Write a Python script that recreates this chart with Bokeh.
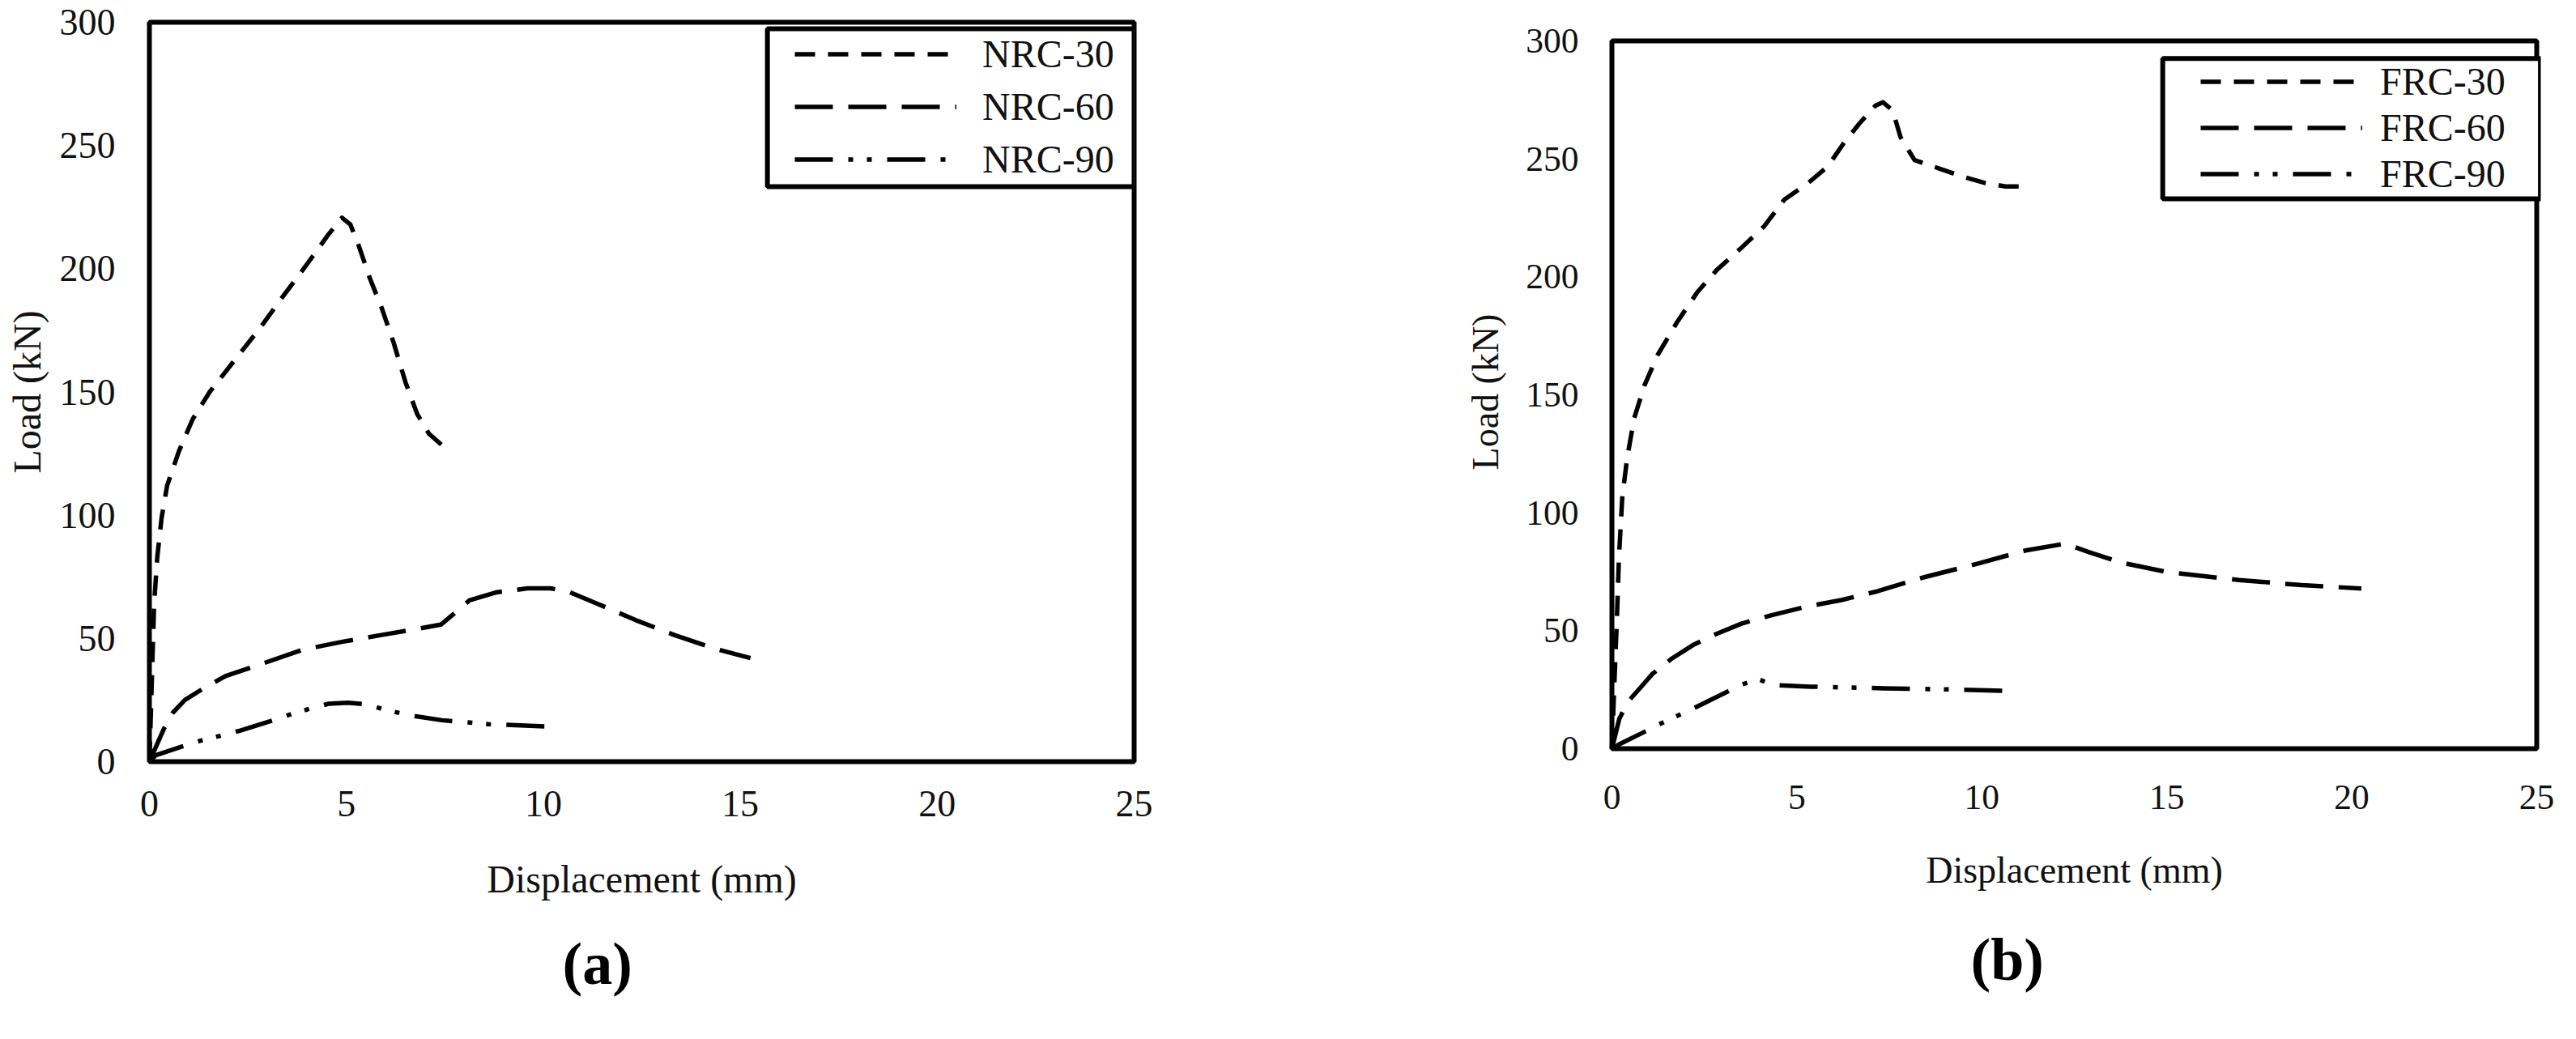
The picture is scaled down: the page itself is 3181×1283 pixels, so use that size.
from bokeh.plotting import figure
from bokeh.models import Range1d, FixedTicker, Legend, LegendItem, BoxAnnotation, Title
from bokeh.layouts import row
from bokeh.embed import file_html
from bokeh.resources import INLINE

# ---------------- data ----------------
x_ticks = [0, 5, 10, 15, 20, 25]
y_ticks = [0, 50, 100, 150, 200, 250, 300]
x_title = "Displacement (mm)"
y_title = "Load (kN)"
panel_tags = ["(a)", "(b)"]

labels_a = ["NRC-30", "NRC-60", "NRC-90"]
labels_b = ["FRC-30", "FRC-60", "FRC-90"]

nrc30_x = [0, 0.04, 0.08, 0.12, 0.2, 0.31, 0.45, 0.75, 1.1, 1.53, 2.12, 2.81, 3.4, 3.87, 4.28, 4.55, 4.89,
           5.1, 5.3, 5.6, 5.9, 6.2, 6.5, 6.8, 7.1, 7.53]
nrc30_y = [0, 21, 43, 64, 83, 99, 112, 126, 139, 150, 162, 176, 189, 199, 208, 214, 220.7,
           218, 210, 196, 184, 170, 154, 141, 133, 127]

nrc60_x = [0, 0.37, 0.58, 0.9, 1.34, 1.93, 2.91, 3.89, 4.88, 5.86, 6.85, 7.4, 7.73, 8.12, 8.81, 9.6, 10.19,
           10.68, 11.37, 12.35, 13.34, 14.32, 15.26]
nrc60_y = [0, 13.4, 19.6, 25, 29.4, 34.7, 40, 45.4, 48.6, 51.3, 54, 55.6, 60, 65.4, 68.7, 70.3, 70.3,
           68.7, 64.1, 57.4, 51.3, 46, 42]

nrc90_x = [0, 0.16, 0.84, 1.3, 1.8, 2.26, 3.19, 3.6, 4.1, 4.55, 5.05, 5.55, 5.98, 6.65, 7.43, 8.6, 10.2]
nrc90_y = [0, 2.6, 6.2, 8.5, 10.5, 12.4, 17, 19.3, 21.6, 23.5, 23.9, 23.2, 21, 18.7, 16.8, 15.2, 14.2]

frc30_x = [0, 0.06, 0.13, 0.19, 0.28, 0.41, 0.6, 0.88, 1.24, 1.77, 2.31, 2.84, 3.48, 4.12, 4.66, 5.3, 5.83,
           6.26, 6.69, 7.12, 7.33, 7.59, 7.8, 8.18, 8.83, 9.47, 10.1, 10.64, 11.07]
frc30_y = [0, 25, 53, 81, 106.5, 123, 140, 154, 167, 181, 193.5, 203, 212, 221.5, 232.7, 239.7, 246.7,
           256.5, 265, 272.5, 274, 270.5, 259.3, 249.5, 246, 242.5, 239.7, 238.3, 238.3]

frc60_x = [0, 0.2, 0.44, 1.09, 1.6, 2.2, 2.8, 3.5, 4.3, 5.2, 6.2, 7.12, 8.4, 9.9, 11.18, 12.25, 12.9,
           13.74, 15.0, 16.95, 18.65, 20.26]
frc60_y = [0, 12.7, 20, 31.6, 38, 44, 48.5, 53, 56.5, 60, 63, 66.5, 72.5, 78.5, 84, 86.9, 83.3,
           79, 74.9, 71.5, 69.3, 67.9]

frc90_x = [0, 0.18, 0.85, 1.27, 1.73, 2.17, 3.06, 3.48, 3.94, 4.38, 5.36, 7.33, 9.47, 10.75]
frc90_y = [0, 1.7, 6.9, 10.3, 13.7, 16.8, 23.7, 27, 29.5, 27, 26.3, 25.6, 25.0, 24.5]

DASHES = ["25 16", "47 19", "47 19 6 17 6 19"]
SERIF = "Liberation Serif"

FIG_H = 1267
BORDER_T = 27
FRAME_H = 913
FRAME_BOTTOM = 8 + BORDER_T + FRAME_H   # page y of the plot frame bottom (948)


def panel(series, names, cfg):
    bl, fw, W = cfg["bl"], cfg["frame_w"], cfg["width"]
    p = figure(width=W, height=FIG_H,
               min_border_left=bl, min_border_right=W - bl - fw,
               min_border_top=BORDER_T, min_border_bottom=FIG_H - BORDER_T - FRAME_H,
               x_range=Range1d(*cfg["xr"]), y_range=Range1d(*cfg["yr"]),
               output_backend="svg", toolbar_location=None, tools="")
    p.background_fill_color = "white"
    p.border_fill_color = "white"
    p.grid.visible = False
    if cfg["own_frame"]:
        p.outline_line_color = None
        p.add_layout(BoxAnnotation(left=0, right=25, bottom=0, top=300,
                                   fill_alpha=0, line_color="black", line_alpha=1.0,
                                   line_width=6))
    else:
        p.outline_line_color = "black"
        p.outline_line_alpha = 1.0
        p.outline_line_width = 6

    p.xaxis.ticker = FixedTicker(ticks=x_ticks)
    p.yaxis.ticker = FixedTicker(ticks=y_ticks)
    for ax in (p.xaxis[0], p.yaxis[0]):
        ax.axis_line_color = None
        ax.major_tick_line_color = None
        ax.minor_tick_line_color = None
        ax.major_tick_in = 0
        ax.major_tick_out = 0
        ax.major_label_text_font = SERIF
        ax.major_label_text_font_size = cfg["tick_fs"]
        ax.major_label_text_color = "#111111"
        ax.axis_label_text_font = SERIF
        ax.axis_label_text_font_style = "normal"
        ax.axis_label_text_font_size = cfg["lab_fs"]
        ax.axis_label_text_color = "#111111"
    p.xaxis.axis_label = x_title
    p.yaxis.axis_label = y_title
    p.xaxis.major_label_standoff = cfg["x_std"]
    p.xaxis.axis_label_standoff = cfg["xl_std"]
    p.yaxis.major_label_standoff = cfg["y_std"]
    p.yaxis.axis_label_standoff = cfg["yl_std"]

    rends = []
    for (xs, ys), dash in zip(series, DASHES):
        r = p.line(xs, ys, line_color="black", line_width=5.5, line_dash=dash,
                   line_join="round")
        rends.append(r)

    bx = cfg["box"]
    p.add_layout(BoxAnnotation(left=bx[0], right=bx[1], bottom=bx[2], top=bx[3],
                               fill_color="white", fill_alpha=1.0,
                               line_color="black", line_alpha=1.0, line_width=6))

    leg = Legend(items=[LegendItem(label=n, renderers=[r]) for n, r in zip(names, rends)],
                 location=cfg["leg_loc"], orientation="vertical",
                 padding=0, spacing=0, margin=0,
                 glyph_width=200, glyph_height=cfg["row_h"], label_height=cfg["row_h"],
                 label_standoff=cfg["leg_std"],
                 label_text_font=SERIF, label_text_font_size="48px",
                 label_text_color="#111111",
                 border_line_color=None, background_fill_alpha=0)
    p.add_layout(leg)

    # panel tag "(a)" / "(b)" below the x-axis title
    p.add_layout(Title(text=cfg["tag"], align="left", offset=cfg["tag_off"],
                       standoff=cfg["tag_std"], text_font=SERIF, text_font_size="74px",
                       text_font_style="bold", text_color="black"), "below")
    return p


ppu_ay = FRAME_H / 300.0
# panel b: frame slightly wider than its drawn box, y range extended so that the
# drawn 0..300 box sits where the original places it (page y 58 .. 932)
ppu_bx = 1142 / 25.0
ppu_by = 874 / 300.0
xpad_b = 5 / ppu_bx
frame_top = 8 + BORDER_T

cfg_a = dict(width=1700, bl=184, frame_w=1216, xr=(0, 25), yr=(0, 300), own_frame=False,
             tick_fs="46px", lab_fs="48px", x_std=36, xl_std=48, y_std=42, yl_std=11,
             box=(15.69, 25.0, (FRAME_BOTTOM - 238) / ppu_ay, (FRAME_BOTTOM - 43) / ppu_ay),
             leg_loc=(797, 711), row_h=65, leg_std=32,
             tag=panel_tags[0], tag_off=510, tag_std=64)
cfg_b = dict(width=1465, bl=285, frame_w=1152, xr=(-xpad_b, 25 + xpad_b),
             yr=((932 - FRAME_BOTTOM) / ppu_by, (932 - frame_top) / ppu_by), own_frame=True,
             tick_fs="43.5px", lab_fs="46px", x_std=29, xl_std=47, y_std=36, yl_std=21,
             box=(14.89, 25.1, 233.1, 292.5), leg_loc=(732, FRAME_BOTTOM - 251), row_h=57, leg_std=22,
             tag=panel_tags[1], tag_off=448, tag_std=78)

pa = panel([(nrc30_x, nrc30_y), (nrc60_x, nrc60_y), (nrc90_x, nrc90_y)], labels_a, cfg_a)
pb = panel([(frc30_x, frc30_y), (frc60_x, frc60_y), (frc90_x, frc90_y)], labels_b, cfg_b)

layout = row(pa, pb)
open("out.html", "w").write(file_html(layout, INLINE))
